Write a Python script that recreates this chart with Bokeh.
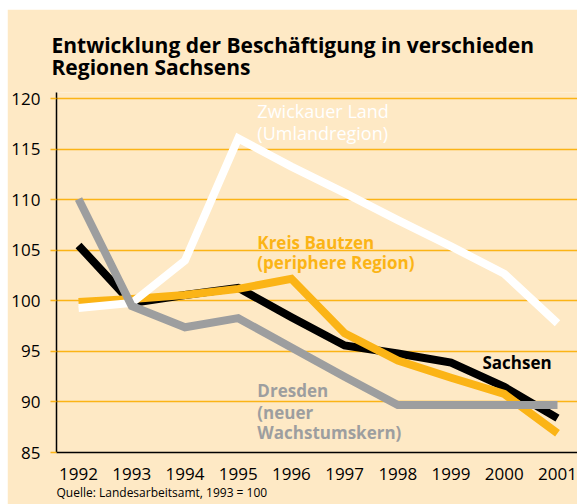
from bokeh.plotting import figure
from bokeh.models import FixedTicker, Label, Range1d, Title
from bokeh.embed import file_html
from bokeh.resources import INLINE

years = [1992, 1993, 1994, 1995, 1996, 1997, 1998, 1999, 2000, 2001]
zwickau = [99.3, 99.8, 104.0, 116.1, 113.3, 110.7, 108.0, 105.4, 102.7, 97.8]
bautzen = [99.9, 100.2, 100.6, 101.2, 102.2, 96.8, 94.1, 92.4, 90.8, 86.9]
sachsen = [105.5, 99.8, 100.6, 101.3, 98.4, 95.6, 94.8, 93.9, 91.5, 88.4]
dresden = [110.1, 99.5, 97.4, 98.3, 95.4, 92.5, 89.7, 89.7, 89.7, 89.7]
y_ticks = [85, 90, 95, 100, 105, 110, 115, 120]

BG = "#FEE9C5"
ORANGE = "#FBB416"
GRAY = "#9D9E9F"
FONT = "Open Sans"

p = figure(width=570, height=495, output_backend="svg", toolbar_location=None,
           x_range=Range1d(1991.586, 2001.376), y_range=Range1d(85, 120.64),
           min_border_left=49, min_border_right=0, min_border_top=83, min_border_bottom=52)
p.margin = (9, 0, 0, 7)
p.background_fill_color = BG
p.border_fill_color = BG
p.outline_line_color = None

p.xgrid.grid_line_color = None
p.ygrid.grid_line_color = ORANGE
p.ygrid.grid_line_width = 1.5
p.ygrid.ticker = FixedTicker(ticks=y_ticks)

p.yaxis.ticker = FixedTicker(ticks=y_ticks)
p.yaxis.axis_line_color = "black"
p.yaxis.axis_line_width = 1.5
p.yaxis.major_tick_out = 6
p.yaxis.major_tick_in = 0
p.yaxis.major_tick_line_color = ORANGE
p.yaxis.major_tick_line_width = 1.5
p.yaxis.minor_tick_line_color = None
p.yaxis.major_label_standoff = 10
p.yaxis.major_label_text_font = FONT
p.yaxis.major_label_text_font_size = "17px"
p.yaxis.major_label_text_color = "black"

p.xaxis.ticker = FixedTicker(ticks=years)
p.xaxis.axis_line_color = "black"
p.xaxis.axis_line_width = 1.5
p.xaxis.major_tick_line_color = None
p.xaxis.minor_tick_line_color = None
p.xaxis.major_tick_out = 0
p.xaxis.major_tick_in = 0
p.xaxis.major_label_standoff = 15
p.xaxis.major_label_text_font = FONT
p.xaxis.major_label_text_font_size = "17px"
p.xaxis.major_label_text_color = "black"

lw = 8
p.line(years, sachsen, line_color="black", line_width=lw, line_cap="butt", line_join="miter")
p.line(years, bautzen, line_color=ORANGE, line_width=lw, line_cap="butt", line_join="miter")
p.line(years, zwickau, line_color="white", line_width=lw, line_cap="butt", line_join="miter")
p.line(years, dresden, line_color=GRAY, line_width=lw, line_cap="butt", line_join="miter")

def lab(x, y, text, color, bold, size="17px"):
    p.add_layout(Label(x=x, y=y, text=text, text_color=color, text_font=FONT,
                       text_font_size=size, text_font_style="bold" if bold else "normal",
                       text_baseline="middle", text_align="left"))

lab(1995.36, 118.76, "Zwickauer Land", "white", False, "18px")
lab(1995.36, 116.68, "(Umlandregion)", "white", False, "18px")
lab(1995.36, 105.79, "Kreis Bautzen", ORANGE, True)
lab(1995.36, 103.81, "(periphere Region)", ORANGE, True)
lab(1999.59, 93.91, "Sachsen", "black", True)
lab(1995.36, 91.14, "Dresden", GRAY, True)
lab(1995.36, 88.96, "(neuer", GRAY, True)
lab(1995.36, 86.98, "Wachstumskern)", GRAY, True)

p.add_layout(Title(text="Entwicklung der Beschäftigung in verschieden\nRegionen Sachsens",
                   align="left", offset=-5, standoff=23, text_line_height=0.8,
                   text_color="black", text_font=FONT, text_font_size="21px",
                   text_font_style="bold"), "above")
p.add_layout(Title(text="Quelle: Landesarbeitsamt, 1993 = 100", align="left", offset=0,
                   standoff=-2, text_color="black", text_font=FONT, text_font_size="12px",
                   text_font_style="normal"), "below")

open("out.html", "w").write(file_html(p, INLINE))
